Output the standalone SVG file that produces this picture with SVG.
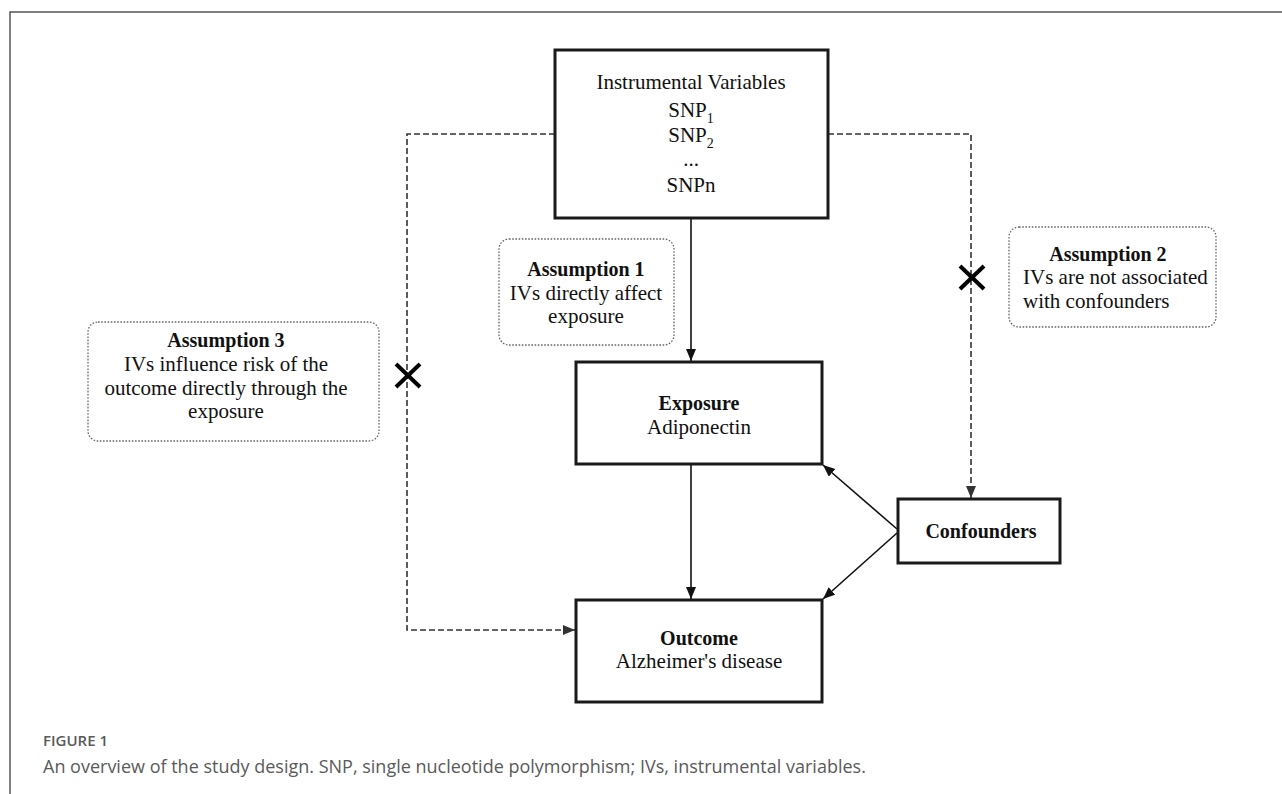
<svg xmlns="http://www.w3.org/2000/svg" width="1282" height="794" viewBox="0 0 1282 794">
<defs>
<style>
.box{fill:#fff;stroke:#1a1a1a;stroke-width:3}
.abox{fill:#fff;stroke:#666;stroke-width:1.3;stroke-dasharray:1.6 1.6}
.t{font-family:"Liberation Serif","Times New Roman",serif;font-size:21px;fill:#111}
.b{font-family:"Liberation Serif","Times New Roman",serif;font-size:20px;font-weight:bold;fill:#111}
.c{text-anchor:middle}
.sub{font-size:14px}
.solid{fill:none;stroke:#111;stroke-width:1.6}
.dash{fill:none;stroke:#333;stroke-width:1.6;stroke-dasharray:6 3}
.xm{stroke:#000;stroke-width:4;stroke-linecap:butt}
.cap{font-family:"Open Sans","Liberation Sans",sans-serif;fill:#5a5a5a}
</style>
<marker id="ah" markerUnits="userSpaceOnUse" markerWidth="13" markerHeight="11" refX="12" refY="5" orient="auto">
<path d="M0,0 L12,5 L0,10 z" fill="#111"/>
</marker>
<marker id="ahd" markerUnits="userSpaceOnUse" markerWidth="13" markerHeight="11" refX="12" refY="5" orient="auto">
<path d="M0,0 L12,5 L0,10 z" fill="#333"/>
</marker>
</defs>
<rect width="1282" height="794" fill="#fff"/>
<g id="frame">
<path d="M10,794 L10,12 L1282,12" fill="none" stroke="#555" stroke-width="1.5"/>
</g>
<g id="connectors">
<line class="solid" x1="691" y1="218" x2="691" y2="361" marker-end="url(#ah)"/>
<line class="solid" x1="691" y1="464" x2="691" y2="599" marker-end="url(#ah)"/>
<line class="solid" x1="897" y1="529" x2="823" y2="465" marker-end="url(#ah)"/>
<line class="solid" x1="897" y1="533" x2="823" y2="599" marker-end="url(#ah)"/>
<path class="dash" d="M555,134 L407,134 L407,630 L575,630" marker-end="url(#ahd)"/>
<path class="dash" d="M828,134 L971,134 L971,498" marker-end="url(#ahd)"/>
<g id="cross1"><line class="xm" x1="960" y1="266" x2="984" y2="289"/><line class="xm" x1="984" y1="266" x2="960" y2="289"/></g>
<g id="cross2"><line class="xm" x1="396" y1="364" x2="420" y2="387"/><line class="xm" x1="420" y1="364" x2="396" y2="387"/></g>
</g>
<g id="iv">
<rect class="box" x="555" y="50" width="273" height="168"/>
<text class="t c" x="691" y="89">Instrumental Variables</text>
<text class="t c" x="691" y="117">SNP<tspan class="sub" dy="6">1</tspan></text>
<text class="t c" x="691" y="142">SNP<tspan class="sub" dy="6">2</tspan></text>
<text class="t c" x="691" y="166">...</text>
<text class="t c" x="691" y="192">SNPn</text>
</g>
<g id="exposure">
<rect class="box" x="576" y="362" width="246" height="102"/>
<text class="b c" x="699" y="410">Exposure</text>
<text class="t c" x="699" y="434">Adiponectin</text>
</g>
<g id="outcome">
<rect class="box" x="576" y="600" width="246" height="102"/>
<text class="b c" x="699" y="645">Outcome</text>
<text class="t c" x="699" y="668">Alzheimer's disease</text>
</g>
<g id="confounders">
<rect class="box" x="898" y="499" width="162" height="64"/>
<text class="b c" x="981" y="538">Confounders</text>
</g>
<g id="assumption1">
<rect class="abox" x="499" y="239" width="175" height="106" rx="10"/>
<text class="b c" x="586" y="276">Assumption 1</text>
<text class="t c" x="586" y="300">IVs directly affect</text>
<text class="t c" x="586" y="323">exposure</text>
</g>
<g id="assumption2">
<rect class="abox" x="1009" y="227" width="207" height="100" rx="10"/>
<text class="b c" x="1108" y="261">Assumption 2</text>
<text class="t" x="1023" y="284">IVs are not associated</text>
<text class="t" x="1023" y="308">with confounders</text>
</g>
<g id="assumption3">
<rect class="abox" x="88" y="322" width="291" height="119" rx="10"/>
<text class="b c" x="226" y="347">Assumption 3</text>
<text class="t c" x="226" y="371">IVs influence risk of the</text>
<text class="t c" x="226" y="395">outcome directly through the</text>
<text class="t c" x="226" y="418">exposure</text>
</g>
<g id="caption">
<text class="cap" x="43" y="746" font-size="15" font-weight="600">FIGURE 1</text>
<text class="cap" x="43" y="773" font-size="18">An overview of the study design. SNP, single nucleotide polymorphism; IVs, instrumental variables.</text>
</g>
</svg>
